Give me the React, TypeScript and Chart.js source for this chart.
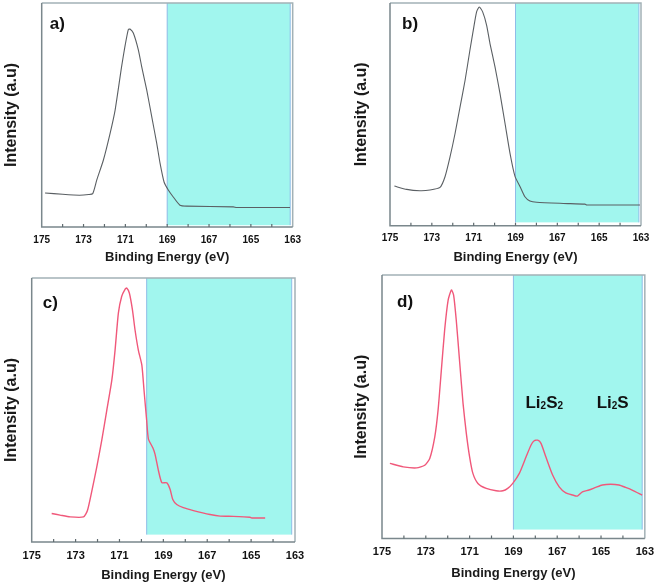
import React, { useEffect, useRef } from 'react';
import { Chart, registerables } from 'chart.js';

Chart.register(...registerables);

// ---------- data ----------
const X_MIN = 163;
const X_MAX = 175;
const labeledTicks = [175, 173, 171, 169, 167, 165, 163];

const aEnergy = [174.84, 174.0, 173.2, 172.75, 172.56, 172.37, 172.05, 171.73, 171.49, 171.18, 171.02, 170.86, 170.78, 170.62, 170.38, 170.22, 169.98, 169.74, 169.5, 169.34, 169.15, 168.94, 168.71, 168.39, 168.07, 165.84, 165.68, 163.13];
const aIntensity = [15.2, 14.6, 14.2, 14.5, 14.9, 20.9, 29.9, 41.8, 52.2, 71.6, 80.6, 88.1, 88.4, 86.6, 79.1, 71.6, 61.2, 49.3, 37.3, 28.4, 20.1, 16.4, 13.4, 9.7, 9.3, 9.0, 8.7, 8.7];

const bEnergy = [174.79, 174.2, 173.57, 173.09, 172.61, 172.37, 172.13, 171.89, 171.65, 171.41, 171.18, 171.02, 170.86, 170.73, 170.57, 170.38, 170.22, 169.98, 169.74, 169.5, 169.26, 169.02, 168.78, 168.55, 168.31, 167.99, 166.71, 165.68, 165.6, 163.05];
const bIntensity = [17.8, 16.3, 15.7, 16.0, 17.2, 22.0, 30.9, 41.4, 53.4, 65.3, 78.8, 87.7, 96.0, 98.2, 96.0, 90.0, 81.8, 71.3, 59.3, 45.9, 32.4, 22.0, 17.5, 13.0, 11.1, 10.5, 10.0, 9.7, 9.3, 9.3];

const cEnergy = [174.09, 173.71, 173.25, 172.64, 172.46, 172.26, 172.04, 171.81, 171.58, 171.35, 171.2, 171.05, 170.9, 170.74, 170.67, 170.55, 170.41, 170.29, 170.14, 169.98, 169.88, 169.76, 169.68, 169.48, 169.38, 169.22, 169.07, 168.84, 168.69, 168.57, 168.39, 168.09, 167.63, 166.87, 166.41, 165.81, 165.05, 164.97, 164.36];
const cIntensity = [10.8, 10.2, 9.5, 9.5, 11.9, 19.3, 28.2, 38.4, 49.8, 61.2, 72.7, 86.7, 93.0, 95.8, 96.2, 94.3, 88.0, 80.3, 72.7, 67.0, 57.4, 46.0, 39.0, 35.7, 33.3, 26.9, 22.5, 22.4, 19.9, 16.1, 14.2, 13.0, 11.9, 10.4, 9.8, 9.7, 9.4, 9.1, 9.1];

const dEnergy = [174.64, 174.03, 173.42, 173.05, 172.82, 172.59, 172.44, 172.29, 172.14, 171.98, 171.83, 171.73, 171.61, 171.45, 171.3, 171.15, 171.0, 170.85, 170.62, 170.24, 169.79, 169.48, 169.26, 169.03, 168.73, 168.42, 168.2, 168.05, 167.89, 167.74, 167.52, 167.21, 166.91, 166.61, 166.3, 166.08, 165.85, 165.55, 165.24, 164.94, 164.56, 164.18, 163.88, 163.58, 163.12];
const dIntensity = [28.5, 27.2, 26.8, 27.8, 30.4, 38.6, 48.7, 63.9, 79.1, 90.5, 94.3, 92.4, 82.9, 66.5, 51.3, 39.9, 31.0, 24.7, 20.9, 19.0, 18.1, 18.1, 19.0, 20.9, 24.7, 31.0, 35.4, 37.1, 37.3, 36.1, 31.0, 24.1, 19.6, 17.3, 16.5, 16.1, 17.7, 18.4, 19.4, 20.3, 20.6, 20.3, 19.4, 18.4, 16.5];

const panelLetters = ['a)', 'b)', 'c)', 'd)'];
const shadeFrom = [169.0, 169.0, 169.76, 169.0];
const shadeTo = [163.12, 163.1, 163.15, 163.12];
const shadeBottom = [0.8, 1.5, 2.8, 3.4];

const speciesLabels = ['Li₂S₂', 'Li₂S'];
const speciesEnergy = [168.45, 165.2];
const speciesLevel = [49.5, 49.5];

// ---------- styles / layout ----------
const FONT = "'Liberation Sans', Arial, sans-serif";
const CYAN = '#a1f6ee';
const GRAY_LINE = '#5a5f63';
const RED_LINE = '#f0587a';

type Panel = {
  left: number; top: number; w: number; h: number;
  L: number; T: number; R: number; B: number;
  yTitlePad: number; xTitlePad: number; tickSize: number; tickPad: number;
  letterDx: number; letterDy: number;
  energy: number[]; intensity: number[]; color: string; lineWidth: number;
  idx: number; species: boolean;
};

const panels: Panel[] = [
  { left: 0, top: 0, w: 330, h: 270, L: 41.7, T: 3, R: 292.7, B: 227, yTitlePad: 2, xTitlePad: 5, tickSize: 10, tickPad: 7, letterDx: 8, letterDy: 25.5, energy: aEnergy, intensity: aIntensity, color: GRAY_LINE, lineWidth: 1.1, idx: 0, species: false },
  { left: 330, top: 0, w: 331, h: 270, L: 60, T: 3, R: 311, B: 225.7, yTitlePad: 22, xTitlePad: 5, tickSize: 10, tickPad: 7, letterDx: 12, letterDy: 25.5, energy: bEnergy, intensity: bIntensity, color: GRAY_LINE, lineWidth: 1.1, idx: 1, species: false },
  { left: 0, top: 270, w: 330, h: 316, L: 31.7, T: 8, R: 295, B: 272, yTitlePad: 2, xTitlePad: 3.2, tickSize: 11, tickPad: 7, letterDx: 11, letterDy: 30, energy: cEnergy, intensity: cIntensity, color: RED_LINE, lineWidth: 1.4, idx: 2, species: false },
  { left: 330, top: 270, w: 331, h: 316, L: 52, T: 5, R: 316, B: 268.5, yTitlePad: 22, xTitlePad: 5.2, tickSize: 11, tickPad: 7, letterDx: 15, letterDy: 32, energy: dEnergy, intensity: dIntensity, color: RED_LINE, lineWidth: 1.4, idx: 3, species: true },
];

const decorPlugin = {
  id: 'decor',
  beforeDatasetsDraw(chart: any, _args: any, opts: any) {
    const { ctx, scales } = chart;
    const x = scales.x, y = scales.y;
    const i = opts.idx;
    const x1 = x.getPixelForValue(shadeFrom[i]);
    const x2 = x.getPixelForValue(shadeTo[i]);
    const yTop = y.getPixelForValue(100);
    const yBot = y.getPixelForValue(shadeBottom[i]);
    ctx.save();
    ctx.fillStyle = CYAN;
    ctx.fillRect(x1, yTop, x2 - x1, yBot - yTop);
    ctx.strokeStyle = '#8fbce8';
    ctx.lineWidth = 1;
    ctx.beginPath();
    ctx.moveTo(x1, yTop);
    ctx.lineTo(x1, yBot);
    ctx.moveTo(x2, yTop);
    ctx.lineTo(x2, yBot);
    ctx.stroke();
    ctx.restore();
  },
  afterDatasetsDraw(chart: any, _args: any, opts: any) {
    const { ctx, chartArea, scales } = chart;
    const x = scales.x, y = scales.y;
    const { left, right, top, bottom } = chartArea;
    ctx.save();
    ctx.lineWidth = 1.5;
    ctx.strokeStyle = '#a3b1b6';
    ctx.beginPath();
    ctx.moveTo(left, top);
    ctx.lineTo(right, top);
    ctx.lineTo(right, bottom);
    ctx.stroke();
    ctx.strokeStyle = '#7a878c';
    ctx.beginPath();
    ctx.moveTo(left, top);
    ctx.lineTo(left, bottom);
    ctx.lineTo(right, bottom);
    ctx.stroke();
    ctx.lineWidth = 1.2;
    ctx.strokeStyle = '#5f6a6e';
    for (let v = X_MIN + 1; v < X_MAX; v++) {
      const px = x.getPixelForValue(v);
      ctx.beginPath();
      ctx.moveTo(px, bottom);
      ctx.lineTo(px, bottom - 3);
      ctx.stroke();
    }
    ctx.fillStyle = '#111';
    ctx.font = `bold 17px ${FONT}`;
    ctx.textAlign = 'left';
    ctx.textBaseline = 'alphabetic';
    ctx.fillText(panelLetters[opts.idx], left + opts.letterDx, top + opts.letterDy);
    if (opts.species) {
      speciesLabels.forEach((label, k) => {
        let px = x.getPixelForValue(speciesEnergy[k]);
        const py = y.getPixelForValue(speciesLevel[k]);
        for (const ch of label) {
          const code = ch.charCodeAt(0);
          if (code >= 0x2080 && code <= 0x2089) {
            const digit = String(code - 0x2080);
            ctx.font = `bold 10px ${FONT}`;
            ctx.fillText(digit, px, py + 1);
            px += ctx.measureText(digit).width;
          } else {
            ctx.font = `bold 17px ${FONT}`;
            ctx.fillText(ch, px, py);
            px += ctx.measureText(ch).width;
          }
        }
      });
    }
    ctx.restore();
  },
};

function PanelChart({ p }: { p: Panel }) {
  const ref = useRef<HTMLCanvasElement | null>(null);
  useEffect(() => {
    if (!ref.current) return;
    const points = p.energy.map((e, k) => ({ x: e, y: p.intensity[k] }));
    const chart = new Chart(ref.current, {
      type: 'line',
      data: {
        datasets: [
          {
            data: points,
            borderColor: p.color,
            borderWidth: p.lineWidth,
            pointRadius: 0,
            tension: 0.2,
            fill: false,
          },
        ],
      },
      options: {
        animation: false,
        responsive: false,
        maintainAspectRatio: false,
        layout: { padding: { left: 0, top: p.T, right: p.w - p.R, bottom: 0 } },
        plugins: {
          legend: { display: false },
          tooltip: { enabled: false },
          decor: { idx: p.idx, letterDx: p.letterDx, letterDy: p.letterDy, species: p.species },
        } as any,
        scales: {
          x: {
            type: 'linear',
            min: X_MIN,
            max: X_MAX,
            reverse: true,
            grid: { display: false, drawTicks: false },
            border: { display: false },
            ticks: {
              stepSize: 1,
              autoSkip: false,
              maxRotation: 0,
              minRotation: 0,
              padding: p.tickPad,
              color: '#111',
              font: { family: FONT, size: p.tickSize, weight: 'bold' },
              callback: (v: any) => (labeledTicks.includes(Number(v)) ? String(v) : ''),
            },
            title: {
              display: true,
              text: 'Binding Energy (eV)',
              color: '#1a1a1a',
              font: { family: FONT, size: 13, weight: 'bold' },
              padding: { top: 0, bottom: p.xTitlePad },
            },
            afterFit: (s: any) => {
              s.height = p.h - p.B;
            },
          },
          y: {
            type: 'linear',
            min: 0,
            max: 100,
            grid: { display: false, drawTicks: false },
            border: { display: false },
            ticks: { display: false },
            title: {
              display: true,
              text: 'Intensity (a.u)',
              color: '#1a1a1a',
              font: { family: FONT, size: 16, weight: 'bold' },
              padding: { top: p.yTitlePad, bottom: 0 },
            },
            afterFit: (s: any) => {
              s.width = p.L;
            },
          },
        },
      } as any,
      plugins: [decorPlugin],
    });
    return () => chart.destroy();
  }, [p]);
  return (
    <canvas
      ref={ref}
      width={p.w}
      height={p.h}
      style={{ position: 'absolute', left: p.left, top: p.top, width: p.w, height: p.h }}
    />
  );
}

export default function App() {
  return (
    <div style={{ position: 'fixed', left: 0, top: 0, width: 661, height: 586, background: '#fff' }}>
      {panels.map((p) => (
        <PanelChart key={p.idx} p={p} />
      ))}
    </div>
  );
}
